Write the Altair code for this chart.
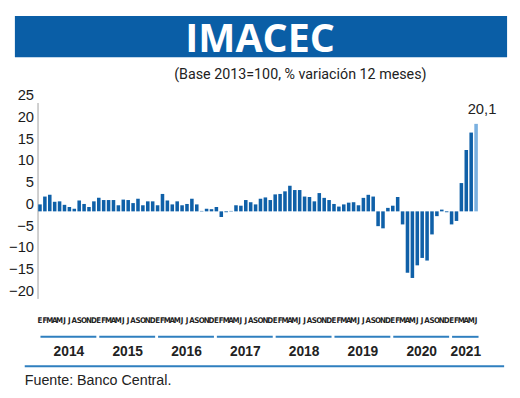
import altair as alt
import pandas as pd

month_initials = ["E", "F", "M", "A", "M", "J", "J", "A", "S", "O", "N", "D"]
years = ["2014", "2015", "2016", "2017", "2018", "2019", "2020", "2021"]
y_ticks = [-20, -15, -10, -5, 0, 5, 10, 15, 20, 25]

v2014 = [1.6, 3.4, 3.8, 2.2, 2.3, 1.5, 1.0, 0.6, 2.5, 1.7, 1.0, 2.3]
v2015 = [3.1, 2.6, 2.6, 2.6, 1.4, 2.7, 2.6, 1.9, 2.9, 1.4, 2.3, 2.3]
v2016 = [1.4, 4.0, 2.5, 1.6, 2.3, 1.4, 1.7, 2.9, 1.6, 0.1, 0.6, 0.5]
v2017 = [1.0, -1.3, -0.2, 0.1, 1.4, 1.3, 2.6, 2.1, 1.6, 2.9, 3.2, 2.6]
v2018 = [3.9, 4.0, 4.6, 5.9, 4.9, 4.9, 3.4, 3.3, 2.3, 4.2, 3.1, 2.6]
v2019 = [1.7, 1.1, 1.6, 2.0, 2.1, 1.4, 3.1, 3.8, 3.4, -3.4, -3.9, 0.8]
v2020 = [1.3, 3.3, -3.0, -14.1, -15.3, -12.4, -10.7, -11.3, -5.3, -1.1, 0.4, -0.2]
v2021 = [-3.0, -2.2, 6.5, 14.1, 18.1, 20.1]

values = v2014 + v2015 + v2016 + v2017 + v2018 + v2019 + v2020 + v2021
n = len(values)

BLUE = "#0f60a8"
LIGHT = "#7ab0e0"
LINE = "#2f7fbf"
COND = "DejaVu Sans Condensed"

df = pd.DataFrame({
    "i": list(range(n)),
    "v": values,
    "m": [month_initials[k % 12] for k in range(n)],
    "tone": ["past"] * (n - 1) + ["latest"],
})
last_df = pd.DataFrame({
    "i": [n - 1],
    "v": [values[-1]],
    "lbl": [f"{values[-1]:.1f}".replace(".", ",")],
})
year_df = pd.DataFrame({
    "year": years,
    "start": [12 * k for k in range(len(years))],
    "end": [min(12 * k + 11, n - 1) for k in range(len(years))],
})

xs = alt.Scale(domain=[-0.5, n - 0.5], nice=False, zero=False, padding=0)
ys = alt.Scale(domain=[-20, 25], nice=False, padding=0)
y_axis = alt.Axis(
    values=y_ticks, ticks=False, grid=False, domainColor="#a0a0a0",
    domainWidth=1, labelFontSize=15, labelFont="Liberation Sans",
    labelColor="#1a1a1a", labelOffset=-8, labelPadding=4, title=None,
    labelOverlap=False, labelFlush=False, labelBound=False)

bars = alt.Chart(df).mark_bar(size=3.6).encode(
    x=alt.X("i:Q", scale=xs, axis=None),
    y=alt.Y("v:Q", scale=ys, axis=y_axis),
    color=alt.Color("tone:N", scale=alt.Scale(domain=["past", "latest"], range=[BLUE, LIGHT]), legend=None),
)

last_label = alt.Chart(last_df).mark_text(
    dx=6, dy=-10, fontSize=15, font="Liberation Sans", color="#222", align="center", baseline="alphabetic"
).encode(x=alt.X("i:Q", scale=xs, axis=None), y=alt.Y("v:Q", scale=ys, axis=y_axis), text="lbl:N")

months = alt.Chart(df).mark_text(
    fontSize=8, font=COND, fontWeight="bold", color="#222", baseline="middle"
).encode(x=alt.X("i:Q", scale=xs, axis=None), y=alt.value(222), text="m:N")

year_lines = alt.Chart(year_df).transform_calculate(
    a="datum.start + 0.1", b="datum.end + 0.5"
).mark_rule(color=LINE, strokeWidth=2).encode(
    x=alt.X("a:Q", scale=xs, axis=None), x2="b:Q", y=alt.value(238)
)

year_text = alt.Chart(year_df).transform_calculate(
    c="(datum.start + datum.end) / 2 + 0.4"
).mark_text(fontSize=14, font="Liberation Sans", fontWeight="bold", color="#222", baseline="alphabetic").encode(
    x=alt.X("c:Q", scale=xs, axis=None), y=alt.value(257), text="year:N"
)

deco = pd.DataFrame({"title": ["IMACEC"], "sub": ["(Base 2013=100, % variación 12 meses)"],
                     "src": ["Fuente: Banco Central."]})

header = alt.Chart(deco).mark_rect(color="#0a5ea6").encode(
    x=alt.value(-23), x2=alt.value(477), y=alt.value(-88), y2=alt.value(-46)
)
title = alt.Chart(deco).mark_text(
    fontSize=40, font="Open Sans", fontWeight="bold", color="white", align="center", baseline="alphabetic"
).encode(x=alt.value(226), y=alt.value(-51), text="title:N")
subtitle = alt.Chart(deco).mark_text(
    fontSize=14.5, font="Roboto", color="#222", align="center", baseline="alphabetic"
).encode(x=alt.value(267), y=alt.value(-24), text="sub:N")
bottom_line = alt.Chart(deco).mark_rule(color=LINE, strokeWidth=2).encode(
    x=alt.value(-13), x2=alt.value(474), y=alt.value(268)
)
source = alt.Chart(deco).mark_text(
    fontSize=14.5, font="Liberation Sans", color="#222", align="left", baseline="alphabetic"
).encode(x=alt.value(-13), y=alt.value(287), text="src:N")

chart = alt.layer(
    header, title, subtitle, bars, last_label, months, year_lines, year_text, bottom_line, source
).properties(
    width=448, height=199,
    padding={"left": 30, "top": 93, "right": 34, "bottom": 90},
    autosize=alt.AutoSizeParams(type="none"),
).configure_view(stroke=None)

chart.save("out.html", embed_options={"renderer": "svg", "actions": False})
